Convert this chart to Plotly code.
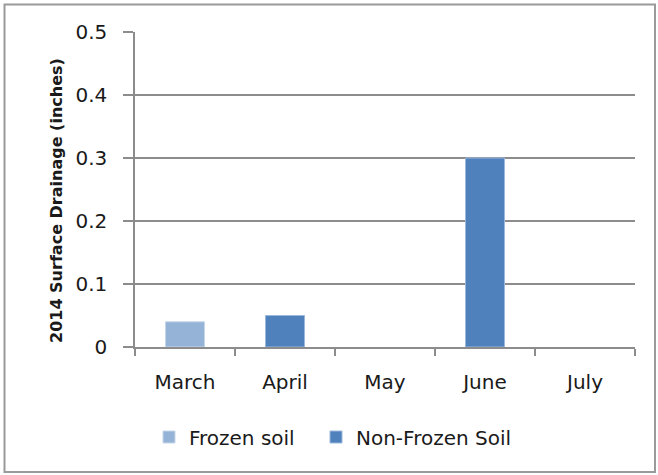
import plotly.graph_objects as go

months = ["March", "April", "May", "June", "July"]
frozen_soil = [0.04, None, None, None, None]
non_frozen_soil = [None, 0.05, None, 0.30, None]
y_ticks = [0, 0.1, 0.2, 0.3, 0.4, 0.5]

FONT = "'DejaVu Sans', sans-serif"
GRID = "#8c8c8c"

# plot area in pixels: x 135..635, y 32..347
L, R, T, B = 135, 635, 32, 347
def px_x(p):
    return (p - L) / (R - L)
def px_y(p):
    return (B - p) / (B - T)

fig = go.Figure()
fig.add_trace(go.Bar(
    x=months, y=frozen_soil, name="Frozen soil",
    marker=dict(color="#95B3D7", line=dict(color="#c6d6ea", width=1)),
    width=0.39, legend="legend",
))
fig.add_trace(go.Bar(
    x=months, y=non_frozen_soil, name="Non-Frozen Soil",
    marker=dict(color="#4F81BD", line=dict(color="#9bb7db", width=1)),
    width=0.39, legend="legend2",
))

legend_style = dict(orientation="h", xanchor="left", y=px_y(437), yanchor="middle",
                    font=dict(size=20), itemwidth=30)

fig.update_layout(
    width=658, height=475,
    margin=dict(l=L, r=658 - R, t=T, b=475 - B),
    paper_bgcolor="white", plot_bgcolor="white",
    barmode="overlay",
    font=dict(family=FONT, size=20, color="#1a1a1a"),
    showlegend=True,
    legend=dict(x=px_x(149), **legend_style),
    legend2=dict(x=px_x(316), **legend_style),
    xaxis=dict(
        showline=True, linecolor=GRID, linewidth=1.5,
        ticks="outside", ticklen=7, tickcolor=GRID, tickwidth=1.5,
        tickson="boundaries", showgrid=False, ticklabelstandoff=16,
        tickfont=dict(size=20),
    ),
    yaxis=dict(
        range=[0, 0.5], tickvals=y_ticks, ticktext=[f"{v:g}" for v in y_ticks],
        showline=True, linecolor=GRID, linewidth=1.5,
        ticks="outside", ticklen=10, tickcolor=GRID, tickwidth=1.5,
        showgrid=True, gridcolor=GRID, gridwidth=1.5, zeroline=False,
        ticklabelstandoff=12,
        tickfont=dict(size=20),
    ),
    annotations=[dict(
        text="<b>2014 Surface Drainage (inches)</b>", textangle=-90,
        xref="paper", yref="paper", x=px_x(56), y=px_y(201),
        xanchor="center", yanchor="middle", showarrow=False,
        font=dict(size=16),
    )],
    shapes=[dict(
        type="rect", xref="paper", yref="paper",
        x0=px_x(4.5), x1=px_x(655),
        y0=px_y(472), y1=px_y(4.5),
        line=dict(color="#9a9a9a", width=2), fillcolor="rgba(0,0,0,0)", layer="below",
    )],
)

fig.write_html("out.html")
